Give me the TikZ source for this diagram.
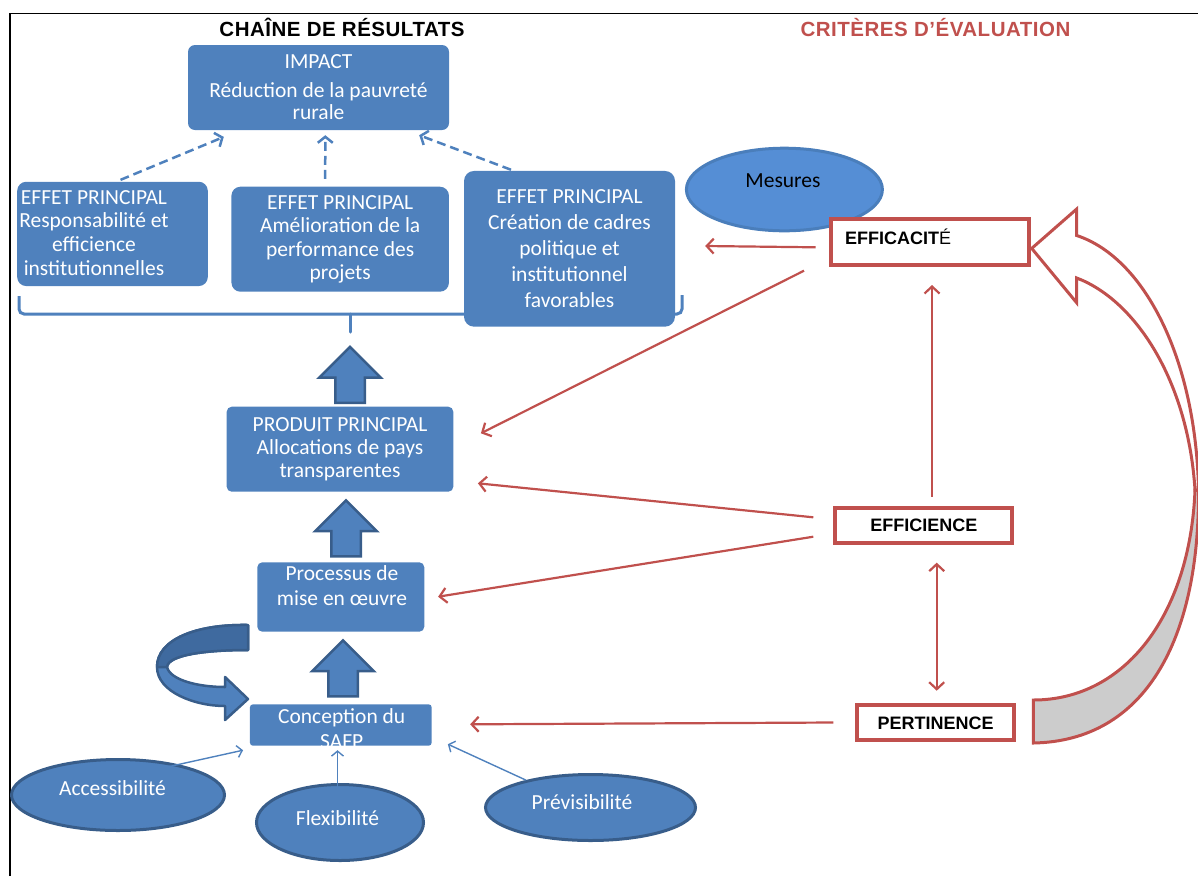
\documentclass[tikz,border=0pt]{standalone}
\usepackage{fontspec}
\setmainfont{Carlito}
\newfontfamily\arialfont{Liberation Sans}
\newfontfamily\titlefont[LetterSpace=2.5]{Liberation Sans}
\usetikzlibrary{arrows.meta,shapes.geometric,shapes.arrows}
\definecolor{boxblue}{HTML}{4F81BD}
\definecolor{edgeblue}{HTML}{385D8A}
\definecolor{backblue}{HTML}{3F6A9F}
\definecolor{mesblue}{HTML}{558ED5}
\definecolor{mesedge}{HTML}{4A7EBB}
\definecolor{critred}{HTML}{C0504D}
\newcommand{\bodyfont}[1]{\fontsize{21.5}{#1}\selectfont}

\begin{document}
\begin{tikzpicture}[
  x=1pt, y=-1pt,
  box/.style={fill=boxblue, rounded corners=7pt, text=white, align=center, inner sep=0pt, font=\bodyfont{23.5}},
  txt/.style={text=white, align=center, inner sep=0pt, font=\bodyfont{23.7}},
  crit/.style={draw=critred, line width=4pt, fill=white, inner sep=0pt, text height=13pt, text depth=0pt, font=\arialfont\bfseries\fontsize{18}{20}\selectfont},
  oval/.style={ellipse, fill=boxblue, draw=edgeblue, line width=3pt, inner sep=0pt},
  blockarrow/.style={single arrow, shape border rotate=90, fill=boxblue, draw=edgeblue, line width=2.5pt, inner sep=13.5pt, minimum height=56pt, minimum width=61pt, single arrow head extend=16pt, anchor=tip},
  dasharrow/.style={draw=boxblue, line width=2.5pt, dash pattern=on 9pt off 5pt, -{Straight Barb[length=6pt,width=15pt]}},
  thinarrow/.style={draw=boxblue, line width=1.4pt, -{Straight Barb[length=5pt,width=12pt]}},
  critarrow/.style={draw=critred, line width=2.2pt, >={Straight Barb[length=7pt,width=15pt]}, ->},
  titletext/.style={font=\titlefont\bfseries\fontsize{20.5}{22}\selectfont, text height=14.7pt, text depth=0pt},
]
\useasboundingbox (0,0) rectangle (1198,876);
\draw[line width=1.3pt] (10,876) -- (10,13.3) -- (1198,13.3);

\node[titletext] (chain) at (342,29.3) {CHAÎNE DE RÉSULTATS};
\node[titletext, text=critred] (criteria) at (935.5,28.8) {CRITÈRES D’ÉVALUATION};

\draw[boxblue, line width=3pt, rounded corners=5pt] (19,296) -- (19,314) -- (682,314) -- (682,295);
\draw[boxblue, line width=3pt, line cap=round] (350,314) -- (350,332);

\node[box, minimum width=261pt, minimum height=85pt, font=\bodyfont{22}] (impact) at (318.5,87.5) {IMPACT\\[7pt]Réduction de la pauvreté\\rurale};
\node[box, rounded corners=9pt, minimum width=190.6pt, minimum height=104.3pt] (eff1) at (112.5,233.9) {};
\node[txt] (eff1txt) at (94,232.7) {EFFET PRINCIPAL\\Responsabilité et\\efficience\\institutionnelles};
\node[box, rounded corners=9pt, minimum width=217.5pt, minimum height=105pt] (eff2) at (340.2,239.2) {EFFET PRINCIPAL\\Amélioration de la\\performance des\\projets};
\node[box, rounded corners=10pt, minimum width=211pt, minimum height=155.7pt, font=\bodyfont{25.9}] (eff3) at (569.5,248.8) {EFFET PRINCIPAL\\Création de cadres\\politique et\\institutionnel\\favorables};

\draw[dasharrow] ([xshift=8pt,yshift=1.7pt]eff1.north) -- ([xshift=36pt,yshift=-6.7pt]impact.south west);
\draw[dasharrow] ([xshift=-15pt,yshift=7.7pt]eff2.north) -- ([xshift=6.8pt,yshift=-5pt]impact.south);
\draw[dasharrow] ([xshift=-58.5pt,yshift=1pt]eff3.north) -- ([xshift=-30pt,yshift=-5pt]impact.south east);

\node[box, rounded corners=5pt, minimum width=226.6pt, minimum height=85pt, font=\bodyfont{23}] (prod) at (340,449.2) {PRODUIT PRINCIPAL\\Allocations de pays\\transparentes};
\node[box, rounded corners=5pt, minimum width=167pt, minimum height=69.4pt] (proc) at (340.8,597) {};
\node[txt, font=\bodyfont{24.3}] (proctxt) at (342,585.5) {Processus de\\mise en œuvre};
\node[box, rounded corners=3pt, minimum width=181.7pt, minimum height=41.4pt] (concep) at (340.8,725) {};
\node[txt, font=\bodyfont{24.3}] (conceptxt) at (341.7,728.5) {Conception du\\SAFP};

\foreach \n/\x/\y in {a/350/345, b/346/498.5, c/343/638.5}
  \node[blockarrow] (up\n) at (\x,\y) {};

\filldraw[fill=boxblue, draw=edgeblue, line width=2.5pt, line join=round] (248,625) .. controls (195,624) and (157,640) .. (157,667) .. controls (157,692) and (195,706) .. (225,706) -- (225,720) -- (248,699) -- (225,677) -- (225,687) .. controls (198,687) and (170,680) .. (167,667) .. controls (168,655) and (205,650) .. (248,650) -- cycle;
\filldraw[fill=backblue, draw=edgeblue, line width=2.5pt, line join=round] (248,625) .. controls (195,624) and (157,640) .. (157,667) -- (167,667) .. controls (168,655) and (205,650) .. (248,650) -- cycle;

\node[oval, minimum width=213pt, minimum height=71pt] (access) at (118,795) {};
\node[txt] (accesstxt) at (112.5,788) {Accessibilité};
\node[oval, minimum width=167pt, minimum height=76pt] (flex) at (340,822.5) {};
\node[txt] (flextxt) at (337.5,817.7) {Flexibilité};
\node[oval, minimum width=210pt, minimum height=66pt] (previs) at (590.5,807.5) {};
\node[txt] (previstxt) at (582,802) {Prévisibilité};

\draw[thinarrow] ([xshift=49pt,yshift=28pt]access.center) -- ([xshift=-6.7pt,yshift=-4.3pt]concep.south west);
\draw[thinarrow] ([xshift=-2.5pt,yshift=25.8pt]flex.center) -- ([xshift=-3.3pt,yshift=-4.3pt]concep.south);
\draw[thinarrow] (previs.157) -- ([xshift=16pt,yshift=1.7pt]concep.south east);

\node[oval, fill=mesblue, draw=mesedge, minimum width=196pt, minimum height=82.6pt] (mesures) at (784.4,189.5) {};
\node[inner sep=0pt, font=\bodyfont{22}] (mestxt) at (783,181) {Mesures};

\node[crit, minimum width=198pt, minimum height=46pt, text width=170pt, align=left, inner xsep=13.2pt, text depth=8pt] (effic) at (930,241.7) {EFFICACIT{\mdseries É}};
\node[crit, minimum width=177pt, minimum height=35.3pt] (effici) at (923.8,525.3) {EFFICIENCE};
\node[crit, minimum width=157pt, minimum height=35.6pt] (pertin) at (935.5,722.5) {PERTINENCE};

\draw[critarrow] ([xshift=-13.5pt,yshift=-5.6pt]effic.west) -- ([xshift=30pt,yshift=2.8pt]eff3.east);
\draw[critarrow] ([xshift=-25pt,yshift=-4pt]effic.south west) -- ([xshift=27.4pt,yshift=15.9pt]prod.east);
\draw[critarrow] ([xshift=8.2pt,yshift=8.7pt]effici.north) -- ([xshift=2pt,yshift=-18.3pt]effic.south);
\draw[critarrow] ([xshift=-20pt,yshift=8pt]effici.west) -- ([xshift=24.4pt,yshift=-34.1pt]prod.east);
\draw[critarrow] ([xshift=-20pt,yshift=-11.4pt]effici.west) -- ([xshift=13.6pt,yshift=0.3pt]proc.east);
\draw[critarrow, <->] ([xshift=12.9pt,yshift=-17.7pt]effici.south) -- ([xshift=1.2pt,yshift=12pt]pertin.north);
\draw[critarrow] ([xshift=-21.7pt]pertin.west) -- ([xshift=38.3pt,yshift=0.7pt]concep.east);

\filldraw[fill=gray!40, draw=critred, line width=3pt] (1195,490) .. controls (1190,615) and (1125,700) .. (1033.3,700) -- (1033.3,743) .. controls (1145,741) and (1199.5,640) .. (1198.5,490) -- cycle;
\filldraw[fill=white, draw=critred, line width=3pt] (1076.7,278) .. controls (1135,300) and (1188,380) .. (1195,490) -- (1198.5,490) .. controls (1196,360) and (1145,258) .. (1076.7,235.5) -- (1076.7,209) -- (1031.7,248.4) -- (1076.7,302.8) -- cycle;
\end{tikzpicture}
\end{document}
